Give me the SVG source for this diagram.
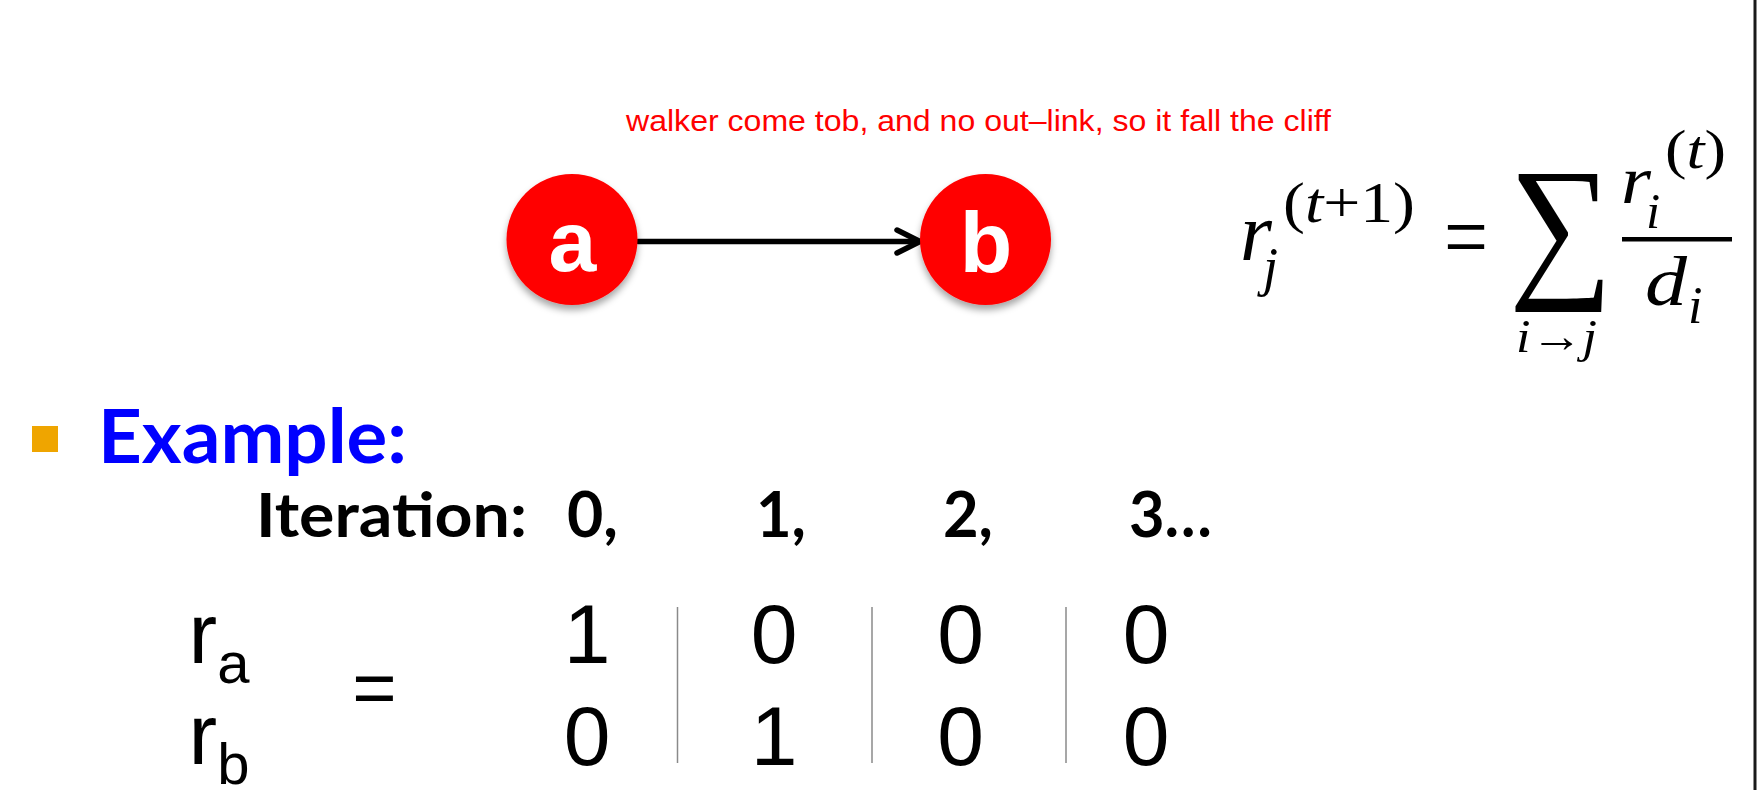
<svg xmlns="http://www.w3.org/2000/svg" width="1758" height="790" viewBox="0 0 1758 790">
  <defs>
    <filter id="shadow" x="-30%" y="-30%" width="160%" height="170%">
      <feDropShadow dx="0" dy="5" stdDeviation="3.5" flood-color="#000" flood-opacity="0.35"/>
    </filter>
    <style>
      .node { fill: #FF0000; filter: url(#shadow); }
      .nodelbl { font-family: "Liberation Sans", Arial, sans-serif; font-weight: bold; font-size: 86px; fill: #FFFFFF; text-anchor: middle; }
      .note { font-family: "Liberation Sans", Arial, sans-serif; font-size: 30px; fill: #FF0000; }
      .edge { fill: none; stroke: #000; stroke-width: 5.5; stroke-linecap: round; stroke-linejoin: round; }
      .m { font-family: "Liberation Serif", "Times New Roman", serif; fill: #000; }
      .it { font-style: italic; }
      .up { font-style: normal; }
      .head { font-family: Lato, "Open Sans", sans-serif; font-weight: bold; }
      .cell { font-family: "Liberation Sans", Arial, sans-serif; font-size: 84px; fill: #000; text-anchor: middle; }
      .var { font-family: "Liberation Sans", Arial, sans-serif; fill: #000; }
      .sep { stroke: #8a8a8a; stroke-width: 1.5; }
    </style>
  </defs>

  <rect x="0" y="0" width="1758" height="790" fill="#FFFFFF"/>
  <line x1="1755" y1="0" x2="1755" y2="790" stroke="#1a1a1a" stroke-width="3"/>

  <text id="note" class="note" x="626" y="131" textLength="705" lengthAdjust="spacingAndGlyphs">walker come tob, and no out–link, so it fall the cliff</text>

  <g id="connectors">
    <line class="edge" x1="638" y1="241.5" x2="918" y2="241.5"/>
    <polyline class="edge" points="897,230 920,241.5 897,253"/>
  </g>

  <g id="node-a">
    <circle class="node" cx="572" cy="239.5" r="65.5"/>
    <text class="nodelbl" x="572.5" y="271">a</text>
  </g>

  <g id="node-b">
    <circle class="node" cx="985.5" cy="239.5" r="65.5"/>
    <text class="nodelbl" x="986" y="271.5">b</text>
  </g>

  <g id="formula">
    <text class="m it" x="1240" y="260" font-size="82">r</text>
    <text class="m it" x="1263" y="285" font-size="54">j</text>
    <text class="m" x="1283" y="222" font-size="56" textLength="132" lengthAdjust="spacingAndGlyphs">(<tspan class="it">t</tspan>+1)</text>
    <text class="m" x="1444" y="269" font-size="96" textLength="44" lengthAdjust="spacingAndGlyphs">=</text>
    <g transform="translate(1509,278) scale(0.97,1.06)">
      <text class="m" x="0" y="0" font-size="150">∑</text>
    </g>
    <text class="m it" x="1516" y="352" font-size="47" textLength="81" lengthAdjust="spacingAndGlyphs">i<tspan class="up">→</tspan>j</text>
    <rect x="1622" y="237" width="110" height="4.5" fill="#000"/>
    <text class="m it" x="1621" y="203" font-size="67" textLength="30" lengthAdjust="spacingAndGlyphs">r</text>
    <text class="m it" x="1646" y="228" font-size="51">i</text>
    <text class="m" x="1665" y="168" font-size="55" textLength="61" lengthAdjust="spacingAndGlyphs">(<tspan class="it">t</tspan>)</text>
    <text class="m it" x="1645" y="305" font-size="70" textLength="42" lengthAdjust="spacingAndGlyphs">d</text>
    <text class="m it" x="1688" y="323" font-size="52">i</text>
  </g>

  <g id="example">
    <rect x="32" y="426" width="26" height="26" fill="#EFA500"/>
    <text class="head" x="98" y="463" font-size="74" fill="#0000FF" textLength="309" lengthAdjust="spacingAndGlyphs">Example:</text>
    <text class="head" x="256" y="537" font-size="62" fill="#000" textLength="271" lengthAdjust="spacingAndGlyphs">Iteration:</text>
    <text class="head" x="567" y="537" font-size="64" fill="#000" textLength="51" lengthAdjust="spacingAndGlyphs">0,</text>
    <text class="head" x="756" y="537" font-size="64" fill="#000" textLength="50" lengthAdjust="spacingAndGlyphs">1,</text>
    <text class="head" x="943" y="537" font-size="64" fill="#000" textLength="50" lengthAdjust="spacingAndGlyphs">2,</text>
    <text class="head" x="1129" y="537" font-size="64" fill="#000" textLength="83" lengthAdjust="spacingAndGlyphs">3…</text>
  </g>

  <g id="table">
    <text class="var" x="188.5" y="663" font-size="86">r<tspan font-size="58" dy="20">a</tspan></text>
    <text class="var" x="188.5" y="764" font-size="86">r<tspan font-size="58" dy="20">b</tspan></text>
    <text class="var" x="374.5" y="714" font-size="76" text-anchor="middle">=</text>

    <text class="cell" x="587" y="663">1</text>
    <text class="cell" x="587" y="765">0</text>
    <text class="cell" x="774" y="663">0</text>
    <text class="cell" x="774" y="765">1</text>
    <text class="cell" x="960.5" y="663">0</text>
    <text class="cell" x="960.5" y="765">0</text>
    <text class="cell" x="1146" y="663">0</text>
    <text class="cell" x="1146" y="765">0</text>

    <line class="sep" x1="677.5" y1="607" x2="677.5" y2="763"/>
    <line class="sep" x1="872" y1="607" x2="872" y2="763"/>
    <line class="sep" x1="1066" y1="607" x2="1066" y2="763"/>
  </g>
</svg>
